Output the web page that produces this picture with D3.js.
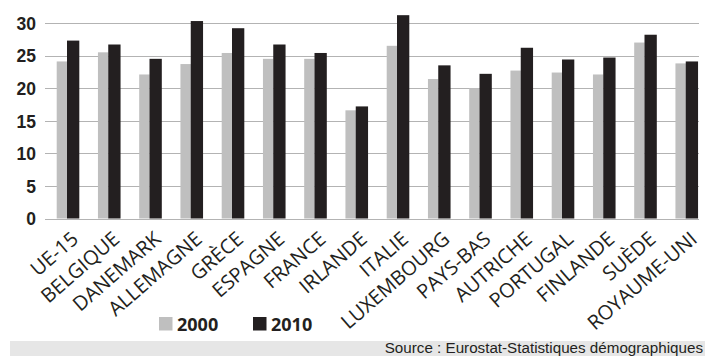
<!DOCTYPE html>
<html>
<head>
<meta charset="utf-8">
<script src="https://cdn.jsdelivr.net/npm/d3@7"></script>
<style>
  body { margin: 0; background: #fff; }
  svg { display: block; }
</style>
</head>
<body>
<script>
//data
var pays = ["UE-15", "BELGIQUE", "DANEMARK", "ALLEMAGNE", "GRÈCE", "ESPAGNE", "FRANCE", "IRLANDE",
            "ITALIE", "LUXEMBOURG", "PAYS-BAS", "AUTRICHE", "PORTUGAL", "FINLANDE", "SUÈDE", "ROYAUME-UNI"];
var val2000 = [24.1, 25.5, 22.1, 23.7, 25.4, 24.5, 24.5, 16.6, 26.5, 21.4, 20.0, 22.7, 22.4, 22.1, 27.0, 23.8];
var val2010 = [27.3, 26.7, 24.5, 30.3, 29.2, 26.7, 25.4, 17.2, 31.2, 23.5, 22.2, 26.2, 24.4, 24.7, 28.2, 24.1];
var annees = ["2000", "2010"];
var yTicks = [0, 5, 10, 15, 20, 25, 30];
var source = "Source : Eurostat-Statistiques démographiques";

var width = 705,
    height = 356;

var svg = d3.select("body")
    .append("svg")
    .attr("width", width)
    .attr("height", height);

//scales
var x = d3.scaleBand()
    .domain(pays)
    .range([45, 705]);

var y = d3.scaleLinear()
    .domain([0, 30])
    .range([218.5, 23]);

//gridlines
svg.append("g")
    .selectAll("line")
    .data(yTicks)
    .enter()
    .append("line")
    .attr("x1", 45)
    .attr("x2", 699)
    .attr("y1", function(d){ return Math.round(y(d)) + 0.5; })
    .attr("y2", function(d){ return Math.round(y(d)) + 0.5; })
    .attr("stroke", "#b3b3b3")
    .attr("stroke-width", 1.2);

//y axis labels
var yAxis = d3.axisLeft(y)
    .tickValues(yTicks)
    .tickSize(0)
    .tickPadding(0);

svg.append("g")
    .attr("transform", "translate(36,0)")
    .call(yAxis)
    .call(function(g){ g.select(".domain").remove(); })
    .selectAll("text")
    .attr("dy", "0.36em")
    .style("font-family", "'Liberation Sans', Arial, sans-serif")
    .style("font-size", "17.5px")
    .style("font-weight", "bold")
    .style("fill", "#231f20");

//bars 2000
svg.append("g")
    .selectAll("rect")
    .data(pays)
    .enter()
    .append("rect")
    .attr("x", function(d){ return x(d) + 11.7; })
    .attr("y", function(d, i){ return y(val2000[i]); })
    .attr("width", 10.5)
    .attr("height", function(d, i){ return y(0) - y(val2000[i]); })
    .attr("fill", "#bfbfbf");

//bars 2010
svg.append("g")
    .selectAll("rect")
    .data(pays)
    .enter()
    .append("rect")
    .attr("x", function(d){ return x(d) + 22; })
    .attr("y", function(d, i){ return y(val2010[i]); })
    .attr("width", 12.3)
    .attr("height", function(d, i){ return y(0) - y(val2010[i]); })
    .attr("fill", "#231f20");

//x labels rotated
svg.append("g")
    .selectAll("text")
    .data(pays)
    .enter()
    .append("text")
    .attr("transform", function(d){
        return "translate(" + (x(d) + x.bandwidth() / 2 + 14) + ",241) rotate(-41)";
    })
    .attr("text-anchor", "end")
    .style("font-family", "'Open Sans', sans-serif")
    .style("font-size", "20px")
    .style("fill", "#231f20")
    .text(function(d){ return d; });

//legend
var legendX = [159, 253];
var legendColors = ["#bfbfbf", "#231f20"];
var legend = svg.append("g")
    .selectAll("g")
    .data(annees)
    .enter()
    .append("g")
    .attr("transform", function(d, i){ return "translate(" + legendX[i] + ",317)"; });

legend.append("rect")
    .attr("width", 13.5)
    .attr("height", 13.5)
    .attr("fill", function(d, i){ return legendColors[i]; });

legend.append("text")
    .attr("x", 18)
    .attr("y", 13.5)
    .style("font-family", "'Open Sans', sans-serif")
    .style("font-size", "18px")
    .style("font-weight", "bold")
    .style("fill", "#231f20")
    .text(function(d){ return d; });

//source band
svg.append("rect")
    .attr("x", 10)
    .attr("y", 341)
    .attr("width", 695)
    .attr("height", 15)
    .attr("fill", "#e6e6e6");

svg.append("text")
    .attr("x", 703)
    .attr("y", 353)
    .attr("text-anchor", "end")
    .style("font-family", "'Liberation Sans', Arial, sans-serif")
    .style("font-size", "15.2px")
    .style("fill", "#231f20")
    .text(source);
</script>
</body>
</html>
